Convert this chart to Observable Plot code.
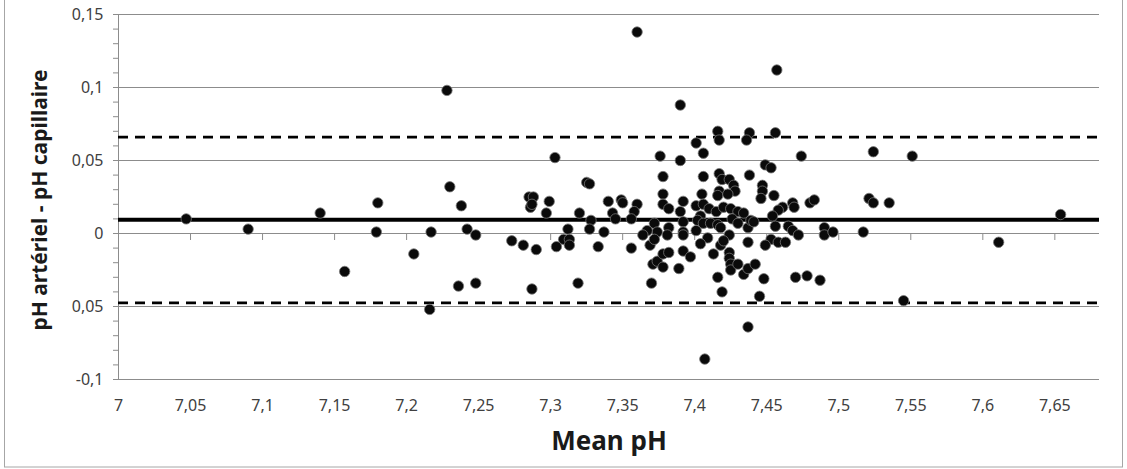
<!DOCTYPE html>
<html>
<head>
<meta charset="utf-8">
<script src="https://cdn.jsdelivr.net/npm/d3@7"></script>
<script src="https://cdn.jsdelivr.net/npm/@observablehq/plot@0.6"></script>
<style>
  body { margin: 0; background: #fff; }
  #chart { width: 1127px; height: 469px; }
</style>
</head>
<body>
<div id="chart"></div>
<script>
// Bland-Altman: mean of arterial and capillary pH vs. their difference
const meanPH = [
  7.047, 7.090, 7.140, 7.180, 7.179, 7.157, 7.228, 7.230, 7.238, 7.217,
  7.242, 7.248, 7.273, 7.360, 7.390, 7.303, 7.376, 7.390, 7.401, 7.406,
  7.416, 7.417, 7.438, 7.436, 7.378, 7.406, 7.417, 7.419, 7.424, 7.427,
  7.428, 7.417, 7.416, 7.423, 7.438, 7.325, 7.327, 7.285, 7.288, 7.286,
  7.287, 7.299, 7.297, 7.320, 7.340, 7.349, 7.350, 7.343, 7.345, 7.360,
  7.358, 7.356, 7.328, 7.327, 7.312, 7.337, 7.378, 7.378, 7.382, 7.392,
  7.390, 7.392, 7.372, 7.382, 7.374, 7.367, 7.364, 7.392, 7.401, 7.405,
  7.406, 7.410, 7.404, 7.402, 7.406, 7.415, 7.420, 7.425, 7.430, 7.434,
  7.426, 7.430, 7.411, 7.416, 7.418, 7.409, 7.424, 7.437, 7.439, 7.205,
  7.236, 7.248, 7.216, 7.281, 7.290, 7.287, 7.304, 7.309, 7.313, 7.313,
  7.319, 7.333, 7.356, 7.369, 7.372, 7.371, 7.374, 7.378, 7.378, 7.382,
  7.381, 7.370, 7.392, 7.392, 7.389, 7.397, 7.404, 7.407, 7.413, 7.418,
  7.420, 7.424, 7.424, 7.425, 7.425, 7.430, 7.434, 7.416, 7.419, 7.437,
  7.437, 7.437, 7.457, 7.456, 7.474, 7.524, 7.551, 7.449, 7.453, 7.447,
  7.447, 7.446, 7.455, 7.468, 7.469, 7.461, 7.458, 7.454, 7.480, 7.483,
  7.521, 7.524, 7.535, 7.654, 7.441, 7.456, 7.465, 7.468, 7.472, 7.490,
  7.490, 7.496, 7.517, 7.453, 7.458, 7.463, 7.611, 7.449, 7.442, 7.448,
  7.470, 7.478, 7.487, 7.445, 7.545, 7.401
];
const diffPH = [
  0.010, 0.003, 0.014, 0.021, 0.001, -0.026, 0.098, 0.032, 0.019, 0.001,
  0.003, -0.001, -0.005, 0.138, 0.088, 0.052, 0.053, 0.050, 0.062, 0.055,
  0.070, 0.064, 0.069, 0.064, 0.039, 0.039, 0.041, 0.037, 0.037, 0.033,
  0.029, 0.029, 0.026, 0.027, 0.040, 0.035, 0.034, 0.025, 0.025, 0.018,
  0.020, 0.022, 0.014, 0.014, 0.022, 0.023, 0.021, 0.014, 0.010, 0.020,
  0.015, 0.010, 0.009, 0.003, 0.003, 0.001, 0.027, 0.020, 0.017, 0.022,
  0.015, 0.008, 0.007, 0.004, 0.001, 0.002, -0.001, 0.001, 0.019, 0.027,
  0.020, 0.017, 0.012, 0.009, 0.007, 0.015, 0.018, 0.017, 0.015, 0.014,
  0.010, 0.007, 0.007, 0.006, 0.004, -0.003, -0.001, 0.004, 0.009, -0.014,
  -0.036, -0.034, -0.052, -0.008, -0.011, -0.038, -0.009, -0.004, -0.004, -0.008,
  -0.034, -0.009, -0.010, -0.008, -0.004, -0.021, -0.019, -0.023, -0.014, -0.013,
  -0.001, -0.034, -0.001, -0.012, -0.024, -0.016, -0.007, -0.086, -0.014, -0.008,
  -0.005, -0.013, -0.017, -0.021, -0.025, -0.021, -0.028, -0.030, -0.040, -0.064,
  -0.006, -0.024, 0.112, 0.069, 0.053, 0.056, 0.053, 0.047, 0.045, 0.033,
  0.029, 0.024, 0.026, 0.021, 0.018, 0.018, 0.016, 0.012, 0.021, 0.023,
  0.024, 0.021, 0.021, 0.013, 0.008, 0.005, 0.005, 0.002, -0.001, 0.004,
  -0.001, 0.001, 0.001, -0.004, -0.006, -0.006, -0.006, -0.008, -0.021, -0.031,
  -0.030, -0.029, -0.032, -0.043, -0.046, 0.002
];

// Mean difference (bias) and limits of agreement
const biasLine = [0.0095];
const agreementLimits = [-0.0475, 0.066];

const xTicks = [7, 7.05, 7.1, 7.15, 7.2, 7.25, 7.3, 7.35, 7.4, 7.45, 7.5, 7.55, 7.6, 7.65];
const xTickLabels = ["7", "7,05", "7,1", "7,15", "7,2", "7,25", "7,3", "7,35", "7,4", "7,45", "7,5", "7,55", "7,6", "7,65"];
const yTicks = [-0.1, -0.05, 0, 0.05, 0.1, 0.15];
const yTickLabels = ["-0,1", "0,05", "0", "0,05", "0,1", "0,15"];
const yMinorTicks = [
  -0.1, -0.09, -0.08, -0.07, -0.06, -0.05, -0.04, -0.03, -0.02, -0.01, 0,
  0.01, 0.02, 0.03, 0.04, 0.05, 0.06, 0.07, 0.08, 0.09, 0.1, 0.11, 0.12, 0.13, 0.14, 0.15
];
const xTitle = ["Mean pH"];
const yTitle = ["pH artériel - pH capillaire"];

const points = meanPH.map((x, i) => ({x, y: diffPH[i]}));
const xLabelOf = new Map(xTicks.map((t, i) => [t, xTickLabels[i]]));
const yLabelOf = new Map(yTicks.map((t, i) => [t, yTickLabels[i]]));

const gridColor = "#8c8c8c";

const chart = Plot.plot({
  width: 1127,
  height: 469,
  marginLeft: 118,
  marginRight: 28,
  marginTop: 14,
  marginBottom: 90,
  style: {fontFamily: "'Noto Sans', sans-serif", fontSize: "16px", color: "#404040", background: "#fff"},
  x: {domain: [7, 7.681]},
  y: {domain: [-0.1, 0.15]},
  marks: [
    Plot.ruleY(yTicks, {stroke: gridColor, strokeWidth: 1}),
    Plot.ruleX([7], {stroke: gridColor}),
    // x tick marks hang below the zero line
    Plot.ruleX(xTicks.slice(1), {x: d => d, y1: 0, y2: 0, insetBottom: -7, stroke: gridColor}),
    Plot.axisY(yMinorTicks, {tickSize: 5, text: null, stroke: gridColor, label: null}),
    Plot.axisY(yTicks, {tickSize: 5, tickPadding: 10, tickFormat: d => yLabelOf.get(d), stroke: gridColor, fill: "#404040", label: null}),
    Plot.axisX(xTicks, {tickSize: 0, tickPadding: 20, tickFormat: d => xLabelOf.get(d), fill: "#404040", label: null}),
    Plot.ruleY(agreementLimits, {stroke: "#000", strokeWidth: 2.6, strokeDasharray: "10,7"}),
    Plot.ruleY(biasLine, {stroke: "#000", strokeWidth: 4}),
    Plot.dot(points, {x: "x", y: "y", r: 5.2, fill: "#0a0a0a", stroke: "#777", strokeWidth: 0.8}),
    Plot.text(xTitle, {frameAnchor: "bottom", dy: 62, lineAnchor: "middle", textAnchor: "middle", fontWeight: "bold", fontSize: 26, fill: "#1a1a1a"}),
    Plot.text(yTitle, {frameAnchor: "left", dx: -78, dy: 3, rotate: -90, textAnchor: "middle", lineAnchor: "middle", fontWeight: "bold", fontSize: 21, fill: "#1a1a1a"})
  ]
});

// chart area border
d3.select(chart).append("rect")
  .attr("x", 4.5).attr("y", -1).attr("width", 1118).attr("height", 468)
  .attr("fill", "none").attr("stroke", "#a6a6a6");

document.getElementById("chart").appendChild(chart);
</script>
</body>
</html>
